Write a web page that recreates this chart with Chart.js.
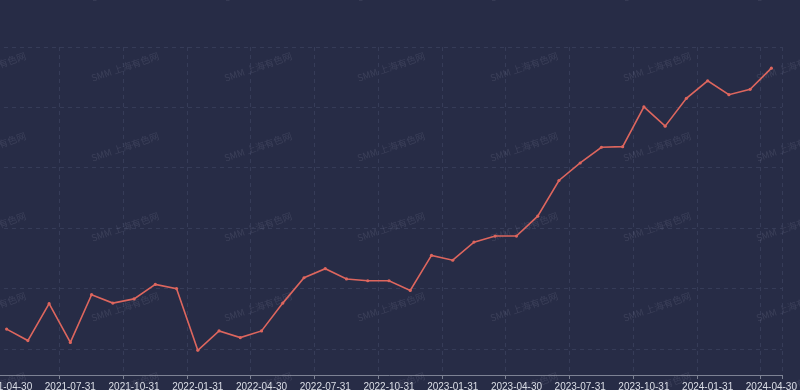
<!DOCTYPE html>
<html>
<head>
<meta charset="utf-8">
<script src="https://cdn.jsdelivr.net/npm/chart.js@4.4.1/dist/chart.umd.min.js"></script>
<style>
  html, body { margin: 0; padding: 0; background: #272c46; overflow: hidden; }
  /* plot is cropped on the left in the reference, so shift the canvas a bit */
  #wrap { position: absolute; left: -8px; top: 0; width: 808px; height: 390px; }
</style>
</head>
<body>
<div id="wrap"><canvas id="priceChart"></canvas></div>
<script>
const months = [
  '2021-04-30', '2021-05-31', '2021-06-30', '2021-07-31', '2021-08-31', '2021-09-30',
  '2021-10-31', '2021-11-30', '2021-12-31', '2022-01-31', '2022-02-28', '2022-03-31',
  '2022-04-30', '2022-05-31', '2022-06-30', '2022-07-31', '2022-08-31', '2022-09-30',
  '2022-10-31', '2022-11-30', '2022-12-31', '2023-01-31', '2023-02-28', '2023-03-31',
  '2023-04-30', '2023-05-31', '2023-06-30', '2023-07-31', '2023-08-31', '2023-09-30',
  '2023-10-31', '2023-11-30', '2023-12-31', '2024-01-31', '2024-02-29', '2024-03-31',
  '2024-04-30'
];
const prices = [
  43.3, 41.4, 47.5, 41.1, 49.0, 47.6, 48.3, 50.7, 50.0,
  39.8, 43.0, 41.9, 43.0, 47.6, 51.8, 53.3, 51.6, 51.3, 51.3, 49.7, 55.5,
  54.7, 57.7, 58.7, 58.7, 62.0, 67.9, 70.8, 73.4, 73.5, 80.1, 76.9, 81.5,
  84.4, 82.1, 83.0, 86.5
];
const yGridValues = [40, 50, 60, 70, 80, 90];
const yMin = 35.7;
const yMax = 90;
const watermarkText = 'SMM 上海有色网';

const lineColor = '#dd665e';
const gridColor = '#363c58';
const axisColor = '#7d8294';

// faint repeated watermark behind the line
const watermark = {
  id: 'watermark',
  beforeDatasetsDraw(chart) {
    const c = chart.ctx;
    c.save();
    c.font = '9.5px "Noto Sans CJK SC", sans-serif';
    c.fillStyle = 'rgba(190,195,215,0.13)';
    c.textAlign = 'center';
    c.textBaseline = 'middle';
    for (let row = 0; row < 6; row++) {
      for (let col = 0; col < 8; col++) {
        c.save();
        c.translate(0 + col * 133, -13 + row * 80);
        c.rotate(-0.33);
        c.fillText(watermarkText, 0, 0);
        c.restore();
      }
    }
    c.restore();
  }
};

const every3 = (ctx, col) => (ctx.index === undefined || ctx.index % 3 === 0) ? col : 'rgba(0,0,0,0)';

new Chart(document.getElementById('priceChart'), {
  type: 'line',
  data: {
    labels: months,
    datasets: [{
      data: prices,
      borderColor: lineColor,
      borderWidth: 1.6,
      pointRadius: 1.6,
      pointBackgroundColor: lineColor,
      pointBorderWidth: 0,
      tension: 0
    }]
  },
  options: {
    responsive: true,
    maintainAspectRatio: false,
    animation: false,
    layout: { padding: { left: 0, right: 18, top: 47, bottom: 0 } },
    plugins: { legend: { display: false }, tooltip: { enabled: false } },
    scales: {
      x: {
        type: 'category',
        offset: true,
        grid: {
          offset: true,
          color: ctx => every3(ctx, gridColor),
          tickColor: ctx => every3(ctx, axisColor),
          tickLength: 4
        },
        border: { display: true, color: axisColor, dash: [4, 4] },
        ticks: {
          autoSkip: false,
          maxRotation: 0,
          padding: 2,
          color: '#dcdfe7',
          font: { family: 'Liberation Sans', size: 10 },
          callback: function(v, i) { return i % 3 === 0 ? this.getLabelForValue(v) : ''; }
        },
        afterFit: s => {
          s.height = 15;
          s.paddingLeft = 0;
          s.paddingRight = 0;
        }
      },
      y: {
        min: yMin,
        max: yMax,
        afterBuildTicks: s => { s.ticks = yGridValues.map(v => ({ value: v })); },
        afterFit: s => { s.width = 0; },
        ticks: { display: false },
        grid: { color: gridColor, drawTicks: false },
        border: { display: false, dash: [4, 4] }
      }
    }
  },
  plugins: [watermark]
});
</script>
</body>
</html>
